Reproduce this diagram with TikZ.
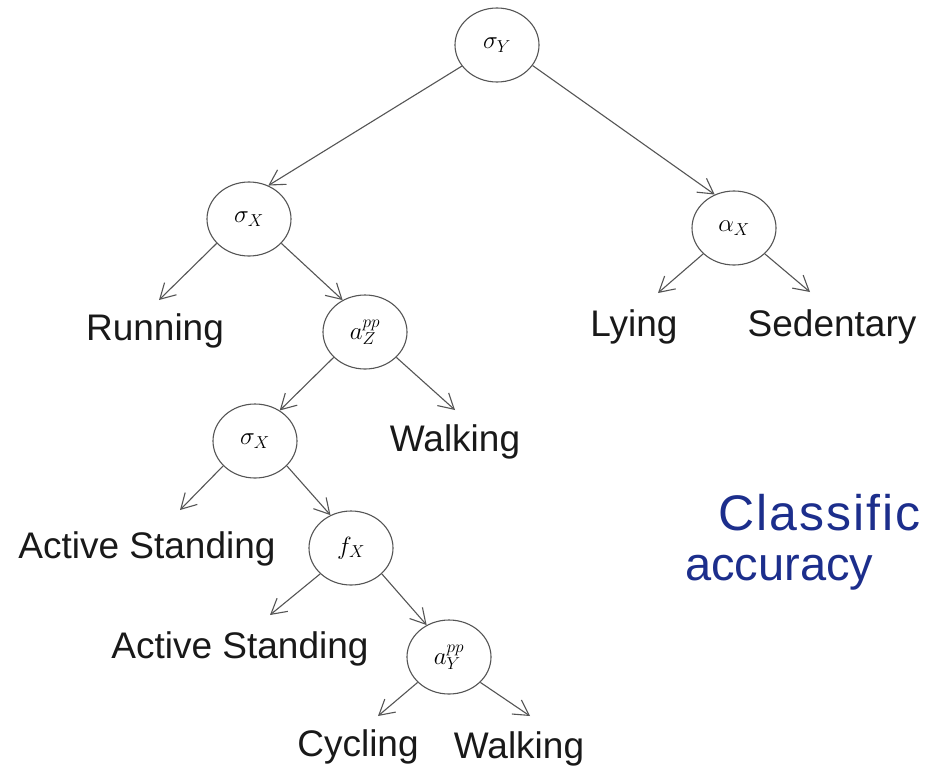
\documentclass[tikz,border=0pt]{standalone}
\usepackage{fontspec}
\setmainfont{Liberation Sans}
\newfontfamily\spacedsans[LetterSpace=4]{Liberation Sans}
\usetikzlibrary{arrows.meta,shapes.geometric}
\definecolor{edgegray}{RGB}{85,85,85}
\definecolor{titleblue}{RGB}{28,46,140}
\begin{document}
\begin{tikzpicture}[x=1pt,y=-1pt,
  split/.style={ellipse,draw=edgegray,line width=1.1pt,minimum width=84pt,minimum height=74pt,inner sep=0pt,
                font=\fontsize{23}{27}\selectfont},
  leaf/.style={anchor=base,inner sep=0pt,text=black!90,font=\fontsize{37}{40}\selectfont},
  branch/.style={draw=edgegray,line width=1.1pt,-{Straight Barb[length=15pt,width=17pt,line width=1.1pt]}},
  heading/.style={anchor=base west,inner sep=0pt,text=titleblue}]
\useasboundingbox[fill=white] (0,0) rectangle (928,766);

% split nodes of the tree
\node[split] (sy)  at (497,45)  {$\sigma_Y$};
\node[split] (sx1) at (249,219) {$\sigma_X$};
\node[split] (ax)  at (734,228) {$\alpha_X$};
\node[split] (az)  at (365,332) {$a_Z^{pp}$};
\node[split] (sx2) at (255,441) {$\sigma_X$};
\node[split] (fx)  at (351,548) {$f_X$};
\node[split] (ay)  at (449,657) {$a_Y^{pp}$};

% class labels at the leaves
\node[leaf] (run)   at (155,340) {Running};
\node[leaf] (lie)   at (634,336) {Lying};
\node[leaf] (sed)   at (832,336) {Sedentary};
\node[leaf] (walk1) at (455,451) {Walking};
\node[leaf] (act1)  at (147,558) {Active Standing};
\node[leaf] (act2)  at (240,658) {Active Standing};
\node[leaf] (cyc)   at (358,756) {Cycling};
\node[leaf] (walk2) at (519,758) {Walking};

% arrow tips above the leaf labels
\coordinate (tRun)   at (159,300);
\coordinate (tLie)   at (658,293);
\coordinate (tSed)   at (810,292);
\coordinate (tWalk1) at (455,410);
\coordinate (tAct1)  at (180,510);
\coordinate (tAct2)  at (270,615);
\coordinate (tCyc)   at (378,716);
\coordinate (tWalk2) at (530,716);

% branches
\draw[branch] (sy.211)  -- (sx1.60);
\draw[branch] (sy.330)  -- (ax.120);
\draw[branch] (sx1.217) -- (tRun);
\draw[branch] (sx1.323) -- (az.125);
\draw[branch] (ax.220)  -- (tLie);
\draw[branch] (ax.320)  -- (tSed);
\draw[branch] (az.219)  -- (sx2.51);
\draw[branch] (az.321)  -- (tWalk1);
\draw[branch] (sx2.218) -- (tAct1);
\draw[branch] (sx2.322) -- (fx.122);
\draw[branch] (fx.220)  -- (tAct2);
\draw[branch] (fx.320)  -- (ay.125);
\draw[branch] (ay.219)  -- (tCyc);
\draw[branch] (ay.321)  -- (tWalk2);

% side caption, running off the right edge
\begin{scope}
\clip (0,0) rectangle (928,766);
\node[heading,font=\spacedsans\fontsize{50}{54}\selectfont] (cap1) at (718,530) {Classific};
\node[heading,font=\fontsize{47}{52}\selectfont] (cap2) at (685,580) {accuracy};
\end{scope}
\end{tikzpicture}
\end{document}
